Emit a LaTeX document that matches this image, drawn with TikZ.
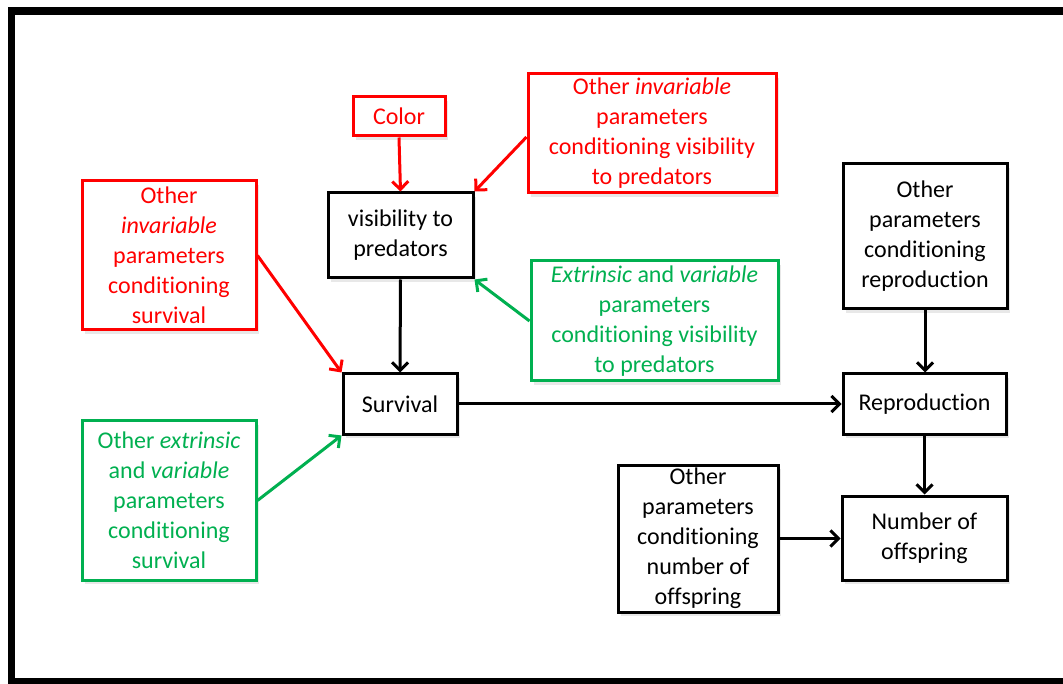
\documentclass[tikz,border=0pt]{standalone}
\usepackage{fontspec}
\setmainfont[Ligatures={NoCommon,NoRequired,NoContextual}]{Carlito}
\usetikzlibrary{arrows.meta,shadows}
\definecolor{ored}{RGB}{255,0,0}
\definecolor{ogreen}{RGB}{0,176,80}
\tikzset{
  box/.style={draw=black, fill=white, line width=3pt, align=center, inner sep=0pt,
    font=\fontsize{24}{30}\selectfont,
    drop shadow={opacity=0.18, shadow xshift=3pt, shadow yshift=-4pt}},
  redbox/.style={box, draw=ored, text=ored},
  greenbox/.style={box, draw=ogreen, text=ogreen},
  arr/.style={line width=3pt, -{Straight Barb[length=8pt,width=16pt,line width=3pt]}},
  redarr/.style={arr, draw=ored},
  greenarr/.style={arr, draw=ogreen},
}
\begin{document}
\begin{tikzpicture}[x=1pt,y=-1pt]
\useasboundingbox (0,0) rectangle (1063,684);
\fill[white] (0,0) rectangle (1063,684);
% frame
\fill[black] (8,7) rectangle (1063,15);
\fill[black] (8,7) rectangle (15,684);
\fill[black] (8,678) rectangle (1063,684);

\node[redbox, minimum width=92pt, minimum height=39pt] (color) at (399,116.5) {Color};
\node[box, minimum width=145pt, minimum height=85pt] (vis) at (400.5,235.5) {visibility to\\predators};
\node[redbox, minimum width=248pt, minimum height=119pt] (redvis) at (652,133.5) {Other \textit{invariable}\\parameters\\conditioning visibility\\to predators};
\node[redbox, minimum width=174pt, minimum height=149pt] (redsurv) at (169,255.5) {Other\\\textit{invariable}\\parameters\\conditioning\\survival};
\node[greenbox, minimum width=247pt, minimum height=120pt] (greenvis) at (654.5,321) {\textit{Extrinsic} and \textit{variable}\\parameters\\conditioning visibility\\to predators};
\node[box, minimum width=114pt, minimum height=60pt] (surv) at (400,404) {Survival};
\node[greenbox, minimum width=174pt, minimum height=159pt] (greensurv) at (169,500.5) {Other \textit{extrinsic}\\and \textit{variable}\\parameters\\conditioning\\survival};
\node[box, minimum width=164pt, minimum height=145pt] (otherrep) at (925,236.5) {Other\\parameters\\conditioning\\reproduction};
\node[box, minimum width=163pt, minimum height=60pt] (rep) at (924.5,404) {Reproduction};
\node[box, minimum width=160pt, minimum height=147pt] (othernum) at (698,538.5) {Other\\parameters\\conditioning\\number of\\offspring};
\node[box, minimum width=165pt, minimum height=84pt] (num) at (924.5,538) {Number of\\offspring};

\draw[redarr] (color.south) -- (vis.north);
\draw[redarr] ([yshift=-3.5pt]redvis.west) -- (vis.north east);
\draw[redarr] (redsurv.east) -- (surv.north west);
\draw[greenarr] (greenvis.west) -- (vis.south east);
\draw[greenarr] (greensurv.east) -- (surv.south west);
\draw[arr] (vis.south) -- (surv.north);
\draw[arr] (surv.east) -- (rep.west);
\draw[arr] (otherrep.south) -- (otherrep.south |- rep.north);
\draw[arr] (rep.south) -- (rep.south |- num.north);
\draw[arr] (othernum.east) -- (othernum.east -| num.west);
\end{tikzpicture}
\end{document}
